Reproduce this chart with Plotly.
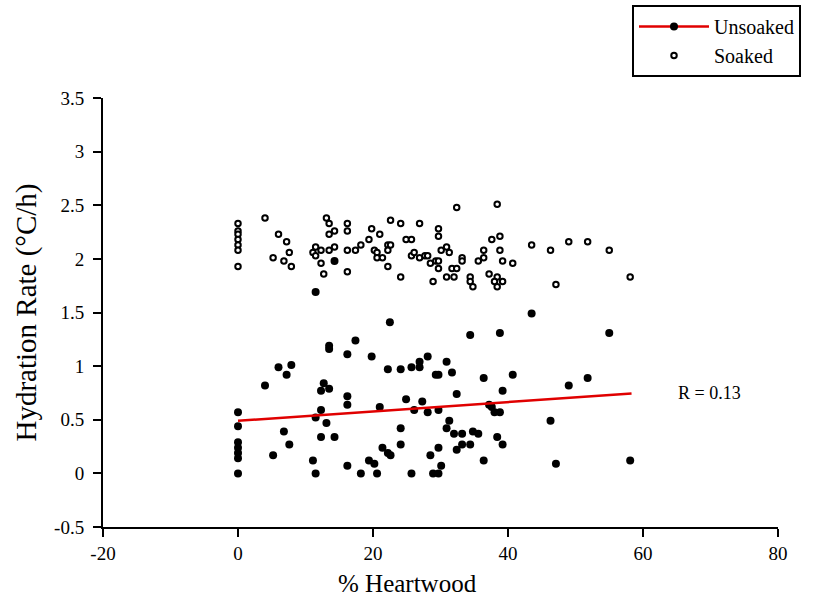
import plotly.graph_objects as go

# ---- data ----
unsoaked_x = [11.5, 22.5, 13.5, 13.5, 17.4, 16.2, 19.8, 6.0, 7.9, 7.2, 4.0, 12.7, 12.3, 13.5, 16.2, 16.2,
              22.2, 24.1, 25.7, 26.9, 26.9, 28.1, 0, 0, 0, 0, 0, 0, 0, 12.3, 11.5, 13.1, 12.3, 14.3,
              6.8, 7.6, 5.2, 11.1, 11.5, 16.2, 18.2, 19.4, 20.2, 20.6, 21.0, 21.4, 22.2, 22.6, 24.1,
              24.1, 24.9, 26.1, 27.3, 28.1, 25.7, 28.5, 28.9, 29.7, 30.9, 29.3, 29.7, 31.7, 32.4,
              34.4, 38.8, 43.5, 55.0, 36.4, 40.7, 39.2, 49.0, 51.8, 29.7, 37.2, 37.6, 38.0, 38.8,
              31.3, 30.9, 32.0, 33.2, 34.8, 35.6, 38.4, 39.2, 33.2, 34.4, 32.4, 29.7, 30.1, 36.4,
              46.3, 47.1, 58.1, 14.3]
unsoaked_y = [1.69, 1.41, 1.19, 1.16, 1.24, 1.11, 1.09, 0.99, 1.01, 0.92, 0.82, 0.84, 0.77, 0.79, 0.72, 0.64,
              0.97, 0.97, 0.99, 1.04, 0.99, 1.09, 0.57, 0.44, 0.29, 0.24, 0.19, 0.14, 0.0, 0.59, 0.52, 0.47, 0.34, 0.34,
              0.39, 0.27, 0.17, 0.12, 0.0, 0.07, 0.0, 0.12, 0.09, 0.0, 0.62, 0.24, 0.19, 0.17, 0.42,
              0.27, 0.69, 0.59, 0.67, 0.57, 0.0, 0.17, 0.0, 0.0, 1.04, 0.92, 0.92, 0.94, 0.74,
              1.29, 1.31, 1.49, 1.31, 0.89, 0.92, 0.77, 0.82, 0.89, 0.59, 0.64, 0.62, 0.57, 0.57,
              0.49, 0.42, 0.37, 0.37, 0.39, 0.37, 0.34, 0.27, 0.27, 0.27, 0.22, 0.24, 0.07, 0.12,
              0.49, 0.09, 0.12, 1.98]

soaked_x = [0, 0, 0, 0, 0, 0, 0, 4.0, 6.0, 7.2, 7.6, 5.2, 6.8, 7.9, 11.1, 11.5, 11.5, 12.3, 12.3, 12.7,
            13.1, 13.5, 13.5, 14.3, 13.5, 14.3, 16.2, 16.2, 16.2, 16.2, 17.4, 18.2, 19.4, 19.8, 21.0,
            20.2, 20.6, 20.6, 21.4, 22.2, 22.6, 22.2, 22.2, 22.6, 24.1, 24.1, 24.9, 25.7, 25.7, 26.1,
            26.9, 26.9, 27.7, 28.1, 28.5, 28.9, 29.7, 29.7, 29.3, 29.7, 29.7, 30.1, 30.9, 31.3, 31.7,
            32.4, 30.9, 32.0, 32.4, 33.2, 33.2, 34.4, 34.4, 34.8, 35.6, 36.4, 36.4, 37.2, 37.6, 38.4,
            38.8, 38.8, 39.2, 40.7, 38.4, 38.0, 39.2, 38.4, 43.5, 46.3, 49.0, 51.8, 55.0, 47.1, 58.1]
soaked_y = [2.33, 2.26, 2.23, 2.18, 2.13, 2.08, 1.93, 2.38, 2.23, 2.16, 2.06, 2.01, 1.98, 1.93, 2.06, 2.11, 2.03, 2.08, 1.96, 1.86,
            2.38, 2.33, 2.23, 2.26, 2.08, 2.11, 2.33, 2.26, 2.08, 1.88, 2.08, 2.13, 2.18, 2.28, 2.23,
            2.08, 2.06, 2.01, 2.01, 2.13, 2.13, 2.08, 1.93, 2.36, 2.33, 1.83, 2.18, 2.18, 2.03, 2.06,
            2.33, 2.01, 2.03, 2.03, 1.96, 1.79, 2.28, 2.21, 1.98, 1.98, 1.91, 2.08, 2.11, 2.06, 1.91,
            1.91, 1.83, 1.83, 2.48, 2.01, 1.98, 1.83, 1.79, 1.74, 1.98, 2.01, 2.08, 1.86, 2.18, 2.51,
            2.21, 2.08, 1.98, 1.96, 1.83, 1.79, 1.79, 1.74, 2.13, 2.08, 2.16, 2.16, 2.08, 1.76, 1.83]

fit_x = [0, 58.3]
fit_y = [0.49, 0.745]

x_ticks = [-20, 0, 20, 40, 60, 80]
x_tick_text = ["-20", "0", "20", "40", "60", "80"]
y_ticks = [-0.5, 0, 0.5, 1, 1.5, 2, 2.5, 3, 3.5]
y_tick_text = ["-0.5", "0", "0.5", "1", "1.5", "2", "2.5", "3", "3.5"]

FONT = "Liberation Serif, Times New Roman, serif"

fig = go.Figure()
fig.add_trace(go.Scatter(x=soaked_x, y=soaked_y, mode="markers", showlegend=False,
                         marker=dict(size=5.5, color="white", line=dict(color="black", width=2))))
fig.add_trace(go.Scatter(x=unsoaked_x, y=unsoaked_y, mode="markers", showlegend=False,
                         marker=dict(size=8, color="black")))
fig.add_trace(go.Scatter(x=fit_x, y=fit_y, mode="lines", showlegend=False,
                         line=dict(color="#e00000", width=2.5)))
# legend entries
fig.add_trace(go.Scatter(x=[None], y=[None], mode="lines+markers", name="Unsoaked",
                         marker=dict(size=8, color="black"), line=dict(color="#e00000", width=2.5)))
fig.add_trace(go.Scatter(x=[None], y=[None], mode="markers", name="Soaked",
                         marker=dict(size=5.5, color="white", line=dict(color="black", width=2))))

fig.add_annotation(x=64.9, y=0.75, text="R = 0.13", showarrow=False, xanchor="left",
                   font=dict(family=FONT, size=18, color="black"))
# x-axis title (centred on the figure, as in the reference)
fig.add_annotation(xref="paper", yref="paper", x=(407 - 103) / 675, y=(527 - 583) / 429,
                   text="% Heartwood", showarrow=False, xanchor="center", yanchor="middle",
                   font=dict(family=FONT, size=25, color="black"))

axis_common = dict(showline=True, linecolor="black", linewidth=2, ticks="outside", ticklen=8,
                   tickwidth=2, tickcolor="black", showgrid=False, zeroline=False,
                   tickfont=dict(family=FONT, size=19, color="black"))

fig.update_layout(
    width=814, height=601,
    margin=dict(l=103, r=36, t=98, b=74, autoexpand=False),
    plot_bgcolor="white", paper_bgcolor="white",
    font=dict(family=FONT, color="black"),
    xaxis=dict(range=[-20, 80], tickvals=x_ticks, ticktext=x_tick_text, **axis_common),
    yaxis=dict(range=[-0.5, 3.5], tickvals=y_ticks, ticktext=y_tick_text, ticklabelstandoff=5,
               title=dict(text="Hydration Rate (°C/h)", font=dict(family=FONT, size=29), standoff=9),
               **axis_common),
    legend=dict(xref="container", yref="container", x=632/814, y=1 - 5/601,
                xanchor="left", yanchor="top", bordercolor="black", borderwidth=2,
                bgcolor="white", font=dict(family=FONT, size=20, color="black"),
                tracegroupgap=0, itemwidth=70),
)

fig.write_html("out.html")
